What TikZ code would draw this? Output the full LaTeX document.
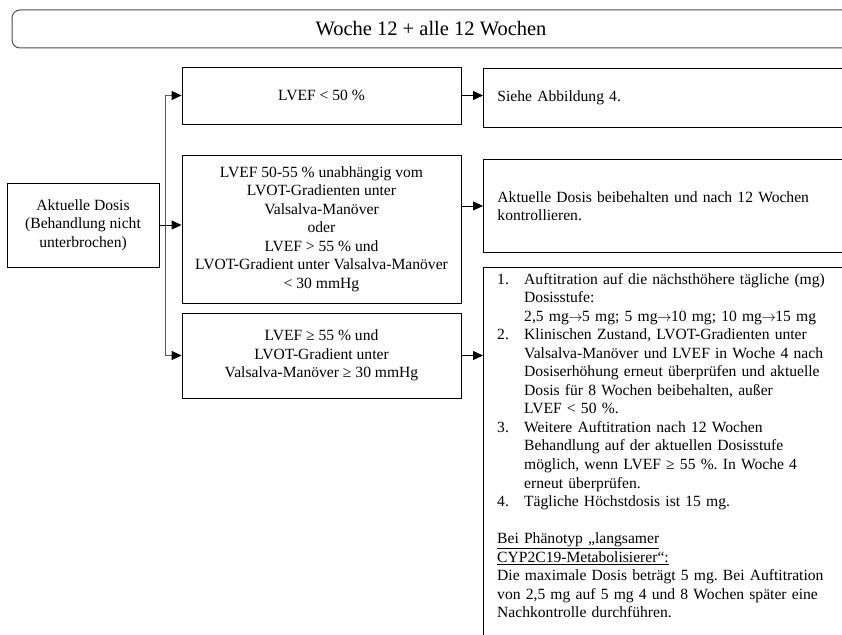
\documentclass[tikz,border=0pt]{standalone}
\usepackage{fontspec}
\setmainfont{Liberation Serif}
\usetikzlibrary{arrows.meta}

\newcommand{\nr}[1]{\makebox[27pt][l]{#1}}
\newcommand{\ein}{\hspace*{27pt}}
\newcommand{\pf}{\kern-0.5pt$\rightarrow$\kern-0.5pt}

\begin{document}
\frenchspacing
\begin{tikzpicture}[x=1pt,y=-1pt,
		txt/.style={font=\fontsize{15.6}{18.5}\selectfont},
		box/.style={txt,draw,line width=0.9pt,align=center,inner sep=0pt,minimum width=279pt},
		rbox/.style={txt,draw,line width=0.9pt,anchor=north west,inner xsep=14pt,inner ysep=0pt,text width=349pt,align=left},
		arr/.style={line width=0.9pt,-{Triangle[length=10pt,width=9pt,color=black]}}]
		\useasboundingbox (0,0) rectangle (842,634);
		% Kopf
		\node[draw=black!70,line width=1pt,rounded corners=8pt,minimum width=838pt,minimum height=38pt,font=\fontsize{20.5}{24}\selectfont] (titel) at (431,29) {Woche 12 + alle 12 Wochen};
		% linke Spalte
		\node[box,minimum width=152pt,minimum height=84pt] (dosis) at (83,225) {Aktuelle Dosis\\(Behandlung nicht\\unterbrochen)};
		\node[box,minimum height=57pt] (lvefA) at (321.5,95.5) {LVEF < 50 \%};
		\node[box,minimum height=148pt] (lvefB) at (321.5,229) {LVEF 50-55 \% unabhängig vom\\LVOT-Gradienten unter\\Valsalva-Manöver\\oder\\LVEF > 55 \% und\\LVOT-Gradient unter Valsalva-Manöver\\< 30 mmHg};
		\node[box,minimum height=85pt] (lvefC) at (321.5,355.5) {LVEF ≥ 55 \% und\\LVOT-Gradient unter\\Valsalva-Manöver ≥ 30 mmHg};
		% rechte Spalte
		\node[rbox,minimum height=59pt] (abb) at (483,68) {Siehe Abbildung 4.};
		\node[rbox,minimum height=93pt] (halten) at (483,159) {Aktuelle Dosis beibehalten und nach 12 Wochen\\kontrollieren.};
		\node[draw,line width=0.9pt,anchor=north west,minimum width=377pt,minimum height=383pt] (auf) at (483,267) {};
		\node[font=\fontsize{15.6}{18.55}\selectfont,anchor=base west,inner sep=0pt,text width=345pt,align=left] (auftext) at (497,284) {%
			\nr{1.}Auftitration auf die nächsthöhere tägliche (mg)\\
			\ein Dosisstufe:\\
			\ein 2,5 mg\pf 5 mg; 5 mg\pf 10 mg; 10 mg\pf 15 mg\\
			\nr{2.}Klinischen Zustand, LVOT-Gradienten unter\\
			\ein Valsalva-Manöver und LVEF in Woche 4 nach\\
			\ein Dosiserhöhung erneut überprüfen und aktuelle\\
			\ein Dosis für 8 Wochen beibehalten, außer\\
			\ein LVEF < 50 \%.\\
			\nr{3.}Weitere Auftitration nach 12 Wochen\\
			\ein Behandlung auf der aktuellen Dosisstufe\\
			\ein möglich, wenn LVEF ≥ 55 \%. In Woche 4\\
			\ein erneut überprüfen.\\
			\nr{4.}Tägliche Höchstdosis ist 15 mg.\\
			~\\
			\underline{Bei Phänotyp „langsamer}\\
			\underline{CYP2C19-Metabolisierer“:}\\
			Die maximale Dosis beträgt 5 mg. Bei Auftitration\\
			von 2,5 mg auf 5 mg 4 und 8 Wochen später eine\\
			Nachkontrolle durchführen.};
		% Pfeile
		\coordinate (spl) at (165,226);
		\draw[arr] (dosis.east) -- (dosis.east -| lvefB.west);
		\draw[arr,draw=black!65] (spl) |- (lvefA.west);
		\draw[arr,draw=black!65] (spl) |- (lvefC.west);
		\draw[arr] (lvefA.east) -- (lvefA.east -| abb.west);
		\draw[arr] (lvefB.east |- halten.west) -- (halten.west);
		\draw[arr] (lvefC.east) -- (lvefC.east -| auf.west);
	\end{tikzpicture}
\end{document}
